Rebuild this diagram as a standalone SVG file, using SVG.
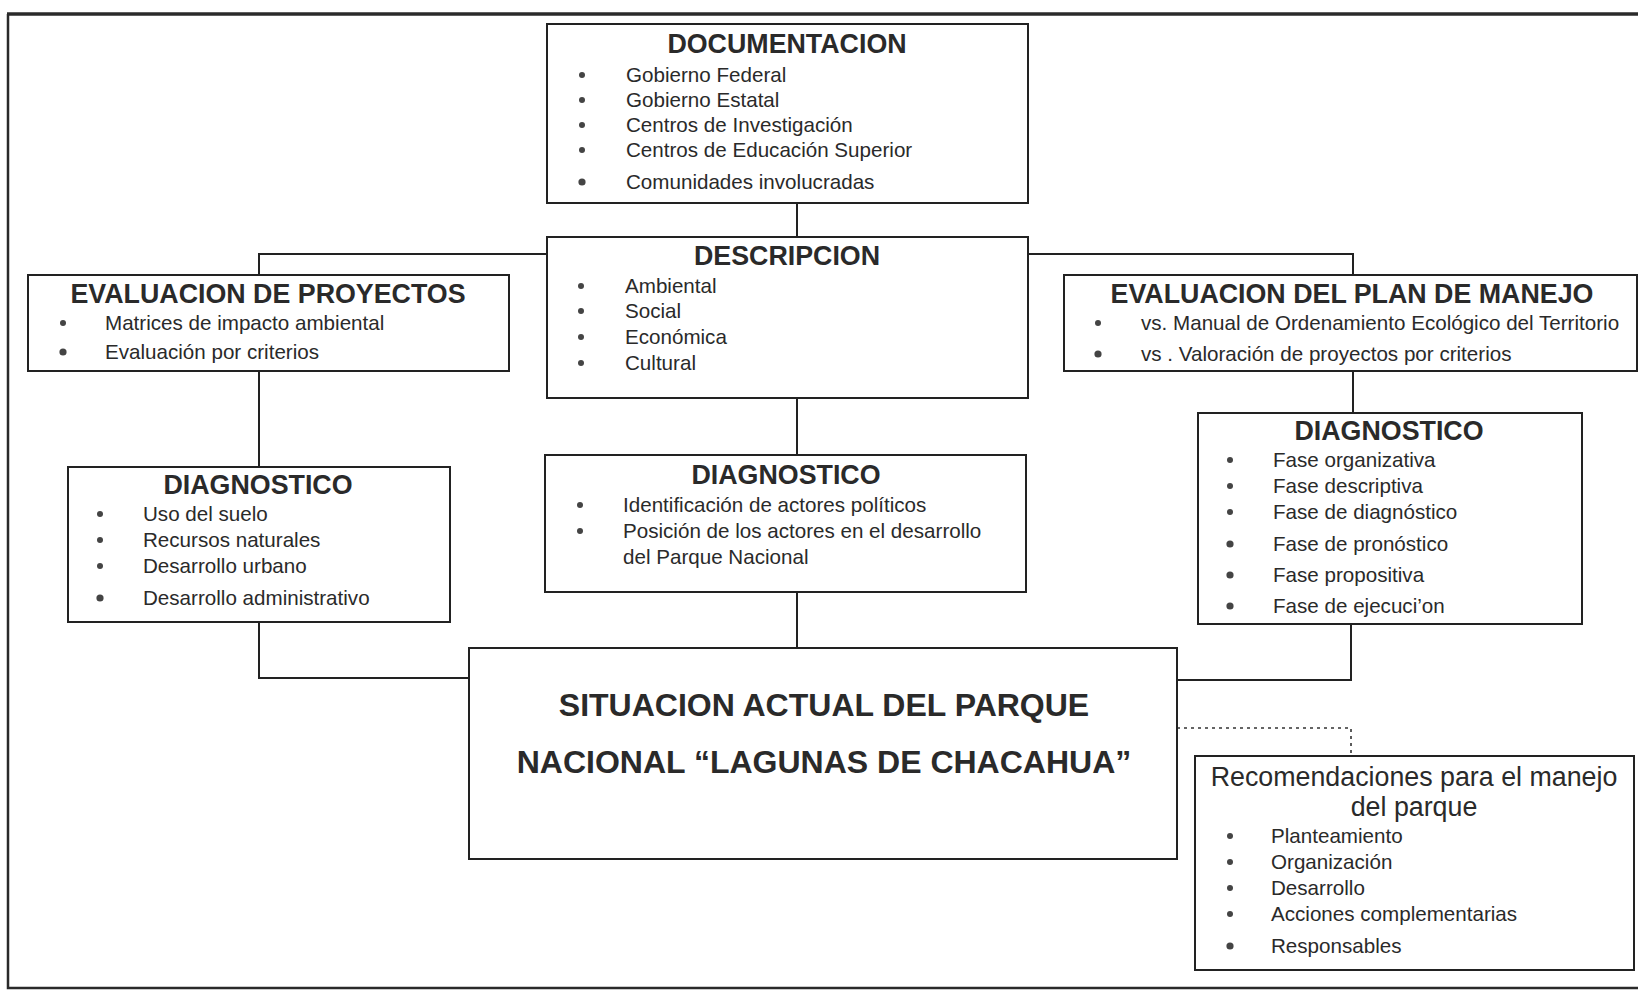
<svg xmlns="http://www.w3.org/2000/svg" width="1638" height="992" viewBox="0 0 1638 992">
<style>
.bg{fill:#ffffff}
.frame{fill:none;stroke:#2a2a2a;stroke-width:2.5}
.frameTop{fill:none;stroke:#2a2a2a;stroke-width:3.5}
.box{fill:#ffffff;stroke:#222;stroke-width:2}
.ln{fill:none;stroke:#222;stroke-width:2}
.dot{fill:none;stroke:#333;stroke-width:1.6;stroke-dasharray:3 4}
text{font-family:"Liberation Sans",Arial,sans-serif;fill:#2a2a2a}
.h{font-size:26.8px;font-weight:bold;text-anchor:middle}
.i{font-size:20.6px}
.big{font-size:32px;font-weight:bold;text-anchor:middle}
.rt{font-size:26.8px;text-anchor:middle}
.bu{fill:#444}
</style>
<rect class="bg" x="0" y="0" width="1638" height="992"/>
<path class="frame" d="M8 14 V988 H1638"/>
<path class="frameTop" d="M7 14 H1638"/>

<g id="connectors">
  <path class="ln" d="M797 203 V237"/>
  <path class="ln" d="M547 254 H259 V275"/>
  <path class="ln" d="M1029 254 H1353 V275"/>
  <path class="ln" d="M259 371 V467"/>
  <path class="ln" d="M797 398 V455"/>
  <path class="ln" d="M1353 371 V413"/>
  <path class="ln" d="M259 622 V678 H469"/>
  <path class="ln" d="M797 592 V648"/>
  <path class="ln" d="M1351 624 V680 H1177"/>
  <path class="dot" d="M1177 728 H1351 V756"/>
</g>

<g id="documentacion">
  <rect class="box" x="547" y="24" width="481" height="179"/>
  <text class="h" x="787" y="53">DOCUMENTACION</text>
  <circle class="bu" cx="582" cy="75" r="3"/><text class="i" x="626" y="82">Gobierno Federal</text>
  <circle class="bu" cx="582" cy="100" r="3"/><text class="i" x="626" y="107">Gobierno Estatal</text>
  <circle class="bu" cx="582" cy="125" r="3"/><text class="i" x="626" y="132">Centros de Investigación</text>
  <circle class="bu" cx="582" cy="150" r="3"/><text class="i" x="626" y="157">Centros de Educación Superior</text>
  <circle class="bu" cx="582" cy="182" r="3.6"/><text class="i" x="626" y="189">Comunidades involucradas</text>
</g>

<g id="descripcion">
  <rect class="box" x="547" y="237" width="481" height="161"/>
  <text class="h" x="787" y="265">DESCRIPCION</text>
  <circle class="bu" cx="581" cy="286" r="3"/><text class="i" x="625" y="293">Ambiental</text>
  <circle class="bu" cx="581" cy="311" r="3"/><text class="i" x="625" y="318">Social</text>
  <circle class="bu" cx="581" cy="337" r="3"/><text class="i" x="625" y="344">Económica</text>
  <circle class="bu" cx="581" cy="363" r="3"/><text class="i" x="625" y="370">Cultural</text>
</g>

<g id="eval-proyectos">
  <rect class="box" x="28" y="275" width="481" height="96"/>
  <text class="h" x="268" y="303">EVALUACION DE PROYECTOS</text>
  <circle class="bu" cx="63" cy="323" r="3"/><text class="i" x="105" y="330">Matrices de impacto ambiental</text>
  <circle class="bu" cx="63" cy="352" r="3.6"/><text class="i" x="105" y="359">Evaluación por criterios</text>
</g>

<g id="eval-plan">
  <rect class="box" x="1064" y="275" width="573" height="96"/>
  <text class="h" x="1352" y="303">EVALUACION DEL PLAN DE MANEJO</text>
  <circle class="bu" cx="1098" cy="323" r="3"/><text class="i" x="1141" y="330">vs. Manual de Ordenamiento Ecológico del Territorio</text>
  <circle class="bu" cx="1098" cy="354" r="3.6"/><text class="i" x="1141" y="361">vs . Valoración de proyectos por criterios</text>
</g>

<g id="diagnostico-izq">
  <rect class="box" x="68" y="467" width="382" height="155"/>
  <text class="h" x="258" y="494">DIAGNOSTICO</text>
  <circle class="bu" cx="100" cy="514" r="3"/><text class="i" x="143" y="521">Uso del suelo</text>
  <circle class="bu" cx="100" cy="540" r="3"/><text class="i" x="143" y="547">Recursos naturales</text>
  <circle class="bu" cx="100" cy="566" r="3"/><text class="i" x="143" y="573">Desarrollo urbano</text>
  <circle class="bu" cx="100" cy="598" r="3.6"/><text class="i" x="143" y="605">Desarrollo administrativo</text>
</g>

<g id="diagnostico-centro">
  <rect class="box" x="545" y="455" width="481" height="137"/>
  <text class="h" x="786" y="484">DIAGNOSTICO</text>
  <circle class="bu" cx="580" cy="505" r="3"/><text class="i" x="623" y="512">Identificación de actores políticos</text>
  <circle class="bu" cx="580" cy="531" r="3"/><text class="i" x="623" y="538">Posición de los actores en el desarrollo</text>
  <text class="i" x="623" y="564">del Parque Nacional</text>
</g>

<g id="diagnostico-der">
  <rect class="box" x="1198" y="413" width="384" height="211"/>
  <text class="h" x="1389" y="440">DIAGNOSTICO</text>
  <circle class="bu" cx="1230" cy="460" r="3"/><text class="i" x="1273" y="467">Fase organizativa</text>
  <circle class="bu" cx="1230" cy="486" r="3"/><text class="i" x="1273" y="493">Fase descriptiva</text>
  <circle class="bu" cx="1230" cy="512" r="3"/><text class="i" x="1273" y="519">Fase de diagnóstico</text>
  <circle class="bu" cx="1230" cy="544" r="3.6"/><text class="i" x="1273" y="551">Fase de pronóstico</text>
  <circle class="bu" cx="1230" cy="575" r="3.6"/><text class="i" x="1273" y="582">Fase propositiva</text>
  <circle class="bu" cx="1230" cy="606" r="3.6"/><text class="i" x="1273" y="613">Fase de ejecuci’on</text>
</g>

<g id="situacion-actual">
  <rect class="box" x="469" y="648" width="708" height="211"/>
  <text class="big" x="824" y="716">SITUACION ACTUAL DEL PARQUE</text>
  <text class="big" x="824" y="773">NACIONAL “LAGUNAS DE CHACAHUA”</text>
</g>

<g id="recomendaciones">
  <rect class="box" x="1195" y="756" width="439" height="214"/>
  <text class="rt" x="1414" y="786">Recomendaciones para el manejo</text>
  <text class="rt" x="1414" y="816">del parque</text>
  <circle class="bu" cx="1230" cy="836" r="3"/><text class="i" x="1271" y="843">Planteamiento</text>
  <circle class="bu" cx="1230" cy="862" r="3"/><text class="i" x="1271" y="869">Organización</text>
  <circle class="bu" cx="1230" cy="888" r="3"/><text class="i" x="1271" y="895">Desarrollo</text>
  <circle class="bu" cx="1230" cy="914" r="3"/><text class="i" x="1271" y="921">Acciones complementarias</text>
  <circle class="bu" cx="1230" cy="946" r="3.6"/><text class="i" x="1271" y="953">Responsables</text>
</g>
</svg>
